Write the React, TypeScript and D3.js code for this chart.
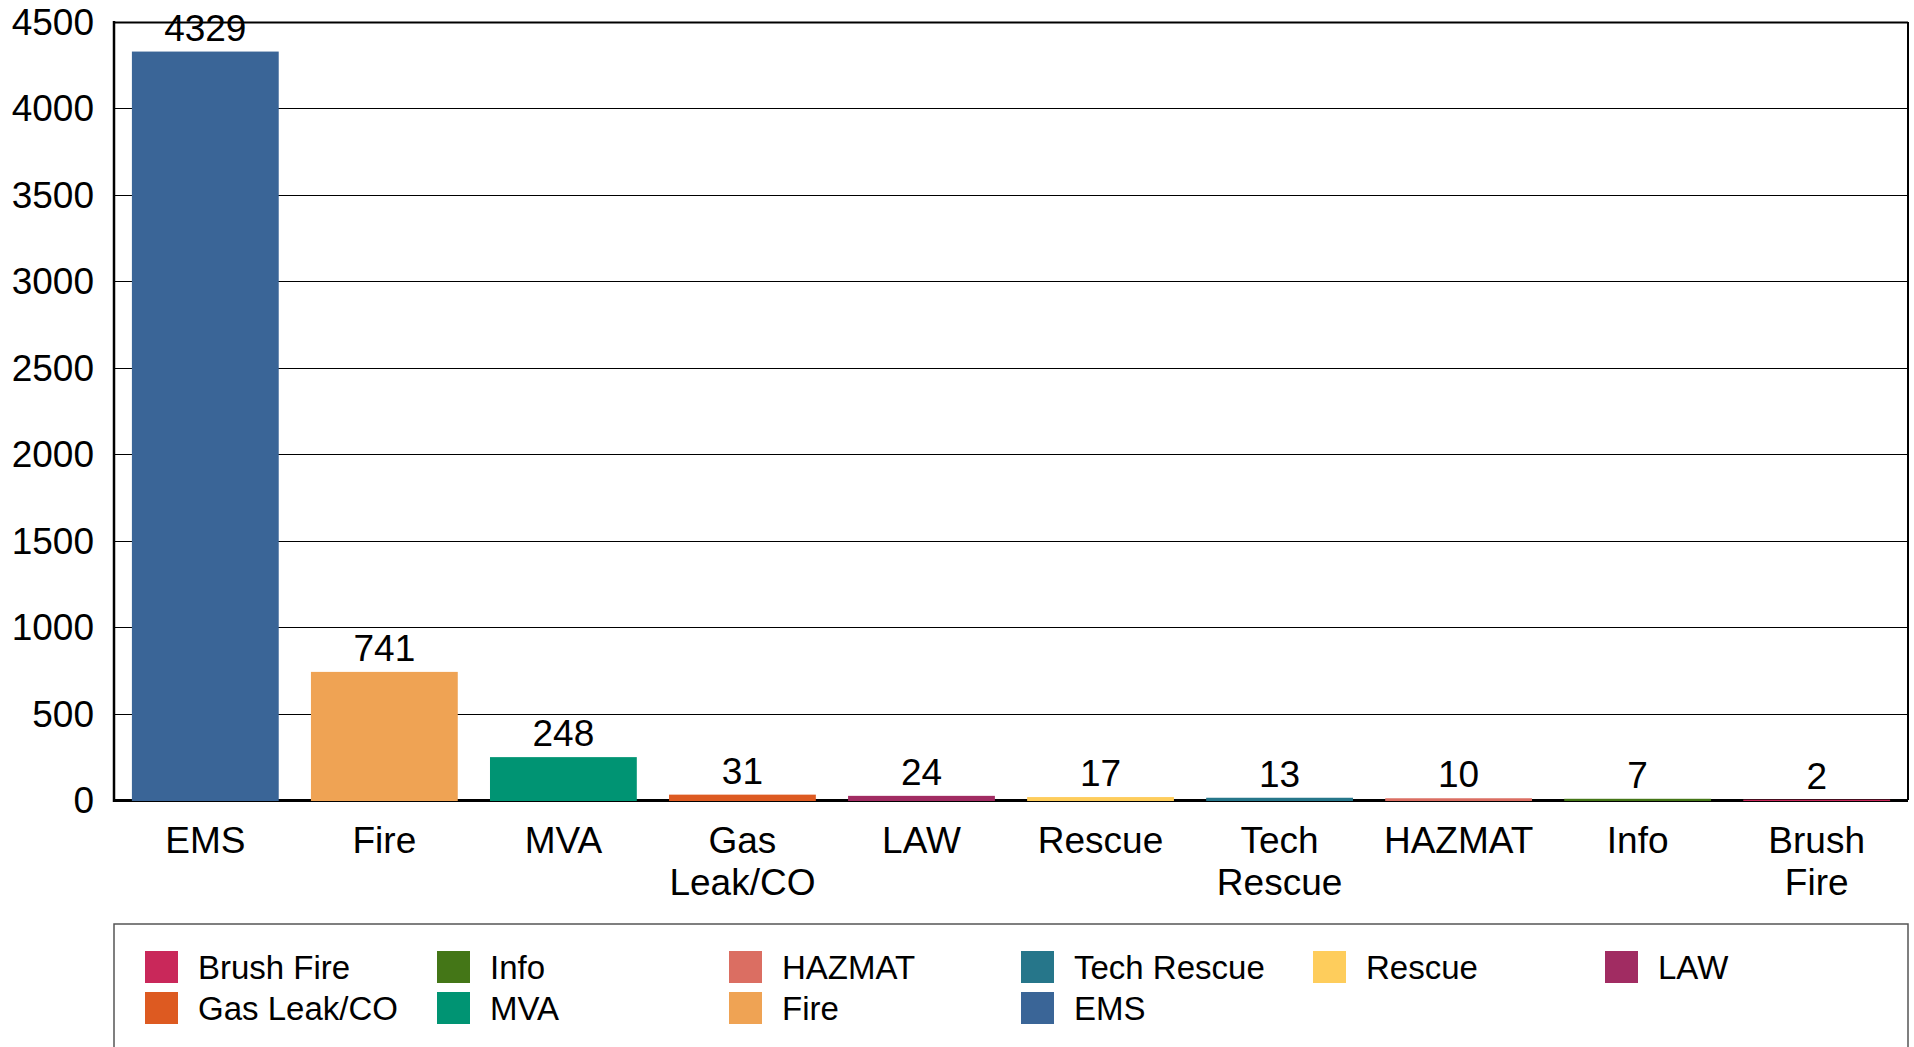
import * as d3 from 'd3';
import { useEffect, useRef } from 'react';

const categories = ['EMS', 'Fire', 'MVA', 'Gas Leak/CO', 'LAW', 'Rescue', 'Tech Rescue', 'HAZMAT', 'Info', 'Brush Fire'];
const counts = [4329, 741, 248, 31, 24, 17, 13, 10, 7, 2];
const colors = ['#3a6597', '#efa354', '#009473', '#dd5a21', '#a12c62', '#fecd5c', '#26768a', '#db6e62', '#447617', '#c9285a'];
const yMax = 4500;

export default function App() {
    const chartRef = useRef<SVGSVGElement | null>(null);

    useEffect(() => {
        if (!chartRef.current) return;
        document.body.style.margin = '0';
        document.body.style.overflow = 'hidden';
        d3.select(chartRef.current).selectAll('*').remove();

        const svg = d3.select(chartRef.current);
        const width = 1914;
        const height = 1047;
        const margin = { top: 22, right: 6, bottom: 247, left: 114 };
        const font = '"Liberation Sans", Arial, sans-serif';

        svg.attr('viewBox', `0 0 ${width} ${height}`).style('font-family', font);

        const x = d3
            .scaleBand()
            .domain(categories)
            .range([margin.left, width - margin.right])
            .paddingInner(0.18)
            .paddingOuter(0.1);

        const y = d3
            .scaleLinear()
            .domain([0, yMax])
            .range([height - margin.bottom, margin.top]);

        // grid lines
        svg.append('g')
            .selectAll('line')
            .data(y.ticks(9).filter((d) => d > 0))
            .join('line')
            .attr('x1', margin.left)
            .attr('x2', width - margin.right)
            .attr('y1', (d) => Math.round(y(d)) + 0.5)
            .attr('y2', (d) => Math.round(y(d)) + 0.5)
            .attr('stroke', '#000')
            .attr('stroke-width', (d) => (d === yMax ? 2 : 1.2));

        // right border
        svg.append('line')
            .attr('x1', width - margin.right)
            .attr('x2', width - margin.right)
            .attr('y1', y(yMax))
            .attr('y2', y(0))
            .attr('stroke', '#000')
            .attr('stroke-width', 2);

        // x axis baseline
        svg.append('line')
            .attr('x1', margin.left)
            .attr('x2', width - margin.right)
            .attr('y1', y(0) + 0.5)
            .attr('y2', y(0) + 0.5)
            .attr('stroke', '#000')
            .attr('stroke-width', 3);

        // bars
        svg.append('g')
            .selectAll('rect')
            .data(counts)
            .join('rect')
            .attr('x', (_, i) => x(categories[i])!)
            .attr('y', (d) => y(d))
            .attr('width', x.bandwidth())
            .attr('height', (d) => y(0) - y(d) + 1)
            .attr('fill', (_, i) => colors[i]);

        // value labels
        svg.append('g')
            .selectAll('text')
            .data(counts)
            .join('text')
            .attr('x', (_, i) => x(categories[i])! + x.bandwidth() / 2)
            .attr('y', (d) => y(d) - 11)
            .attr('text-anchor', 'middle')
            .style('font-size', '37px')
            .text((d) => d);

        // y axis
        svg.append('line')
            .attr('x1', margin.left)
            .attr('x2', margin.left)
            .attr('y1', y(yMax) - 1)
            .attr('y2', y(0) + 2)
            .attr('stroke', '#000')
            .attr('stroke-width', 2.5);

        svg.append('g')
            .selectAll('text')
            .data(y.ticks(9))
            .join('text')
            .attr('x', margin.left - 20)
            .attr('y', (d) => y(d))
            .attr('dy', '0.35em')
            .attr('text-anchor', 'end')
            .style('font-size', '37px')
            .text((d) => d);

        // x labels, wrapped to band width
        const xLabels = svg.append('g')
            .selectAll('text')
            .data(categories)
            .join('text')
            .attr('x', (d) => x(d)! + x.bandwidth() / 2)
            .attr('y', y(0) + 53)
            .attr('text-anchor', 'middle')
            .style('font-size', '37px');

        xLabels.each(function (d) {
            const t = d3.select(this);
            const words = d.split(' ');
            const cx = x(d)! + x.bandwidth() / 2;
            let line: string[] = [];
            let tspan = t.append('tspan').attr('x', cx).attr('dy', 0);
            let lineNo = 0;
            for (const w of words) {
                line.push(w);
                tspan.text(line.join(' '));
                if ((tspan.node() as SVGTSpanElement).getComputedTextLength() > x.bandwidth() - 10 && line.length > 1) {
                    line.pop();
                    tspan.text(line.join(' '));
                    line = [w];
                    lineNo++;
                    tspan = t.append('tspan').attr('x', cx).attr('dy', 42).text(w);
                }
            }
        });

        // legend
        const legendTop = 924;
        svg.append('rect')
            .attr('x', margin.left)
            .attr('y', legendTop)
            .attr('width', width - margin.right - margin.left)
            .attr('height', 200)
            .attr('fill', 'none')
            .attr('stroke', '#555')
            .attr('stroke-width', 1.5);

        const legendItems = categories.map((c, i) => ({ name: c, color: colors[i] })).reverse();
        const item = svg.append('g')
            .selectAll('g')
            .data(legendItems)
            .join('g')
            .attr('transform', (_, i) => `translate(${145 + (i % 6) * 292},${951 + Math.floor(i / 6) * 41})`);

        item.append('rect')
            .attr('width', 33)
            .attr('height', 32)
            .attr('fill', (d) => d.color);

        item.append('text')
            .attr('x', 53)
            .attr('y', 16)
            .attr('dy', '0.35em')
            .style('font-size', '33px')
            .text((d) => d.name);
    }, []);

    return <svg ref={chartRef} width={1914} height={1047} style={{ display: 'block' }} />;
}
